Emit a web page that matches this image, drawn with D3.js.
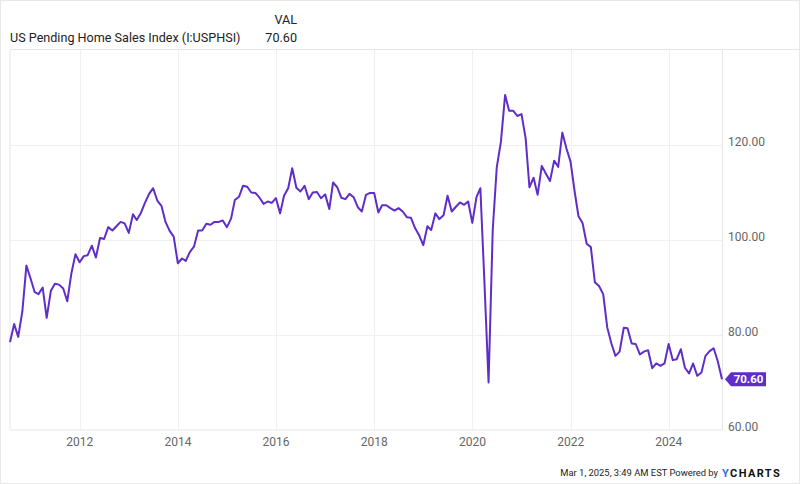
<!DOCTYPE html>
<html>
<head>
<meta charset="utf-8">
<script src="https://cdn.jsdelivr.net/npm/d3@7"></script>
<style>
  html, body { margin: 0; padding: 0; background: #fff; }
  svg { display: block; font-family: Roboto, "Noto Sans", sans-serif; }
</style>
</head>
<body>
<svg id="chart" width="800" height="484"></svg>
<script>
// ---- data ----
const startMonth = "2010-07";           // first observation (month-end dated)
const seriesName = "US Pending Home Sales Index (I:USPHSI)";
const lastValueLabel = "70.60";
const values = [
  // 2010 Jul-Dec
  78.4, 82.2, 79.5, 84.9, 94.5, 91.8,
  // 2011
  88.9, 88.5, 89.9, 83.5, 89.2, 90.7, 90.5, 89.7, 87.0, 92.9, 96.9, 95.2,
  // 2012
  96.5, 96.7, 98.7, 96.2, 100.3, 100.1, 102.6, 101.9, 102.8, 103.7, 103.4, 101.4,
  // 2013
  105.3, 104.1, 105.6, 107.7, 109.6, 110.8, 108.2, 107.1, 103.7, 101.8, 100.6, 95.0,
  // 2014
  96.0, 95.5, 97.4, 98.5, 101.9, 101.9, 103.3, 103.1, 103.7, 103.7, 104.0, 102.6,
  // 2015
  104.4, 108.3, 109.0, 111.3, 111.1, 109.9, 109.8, 108.8, 107.5, 108.0, 107.7, 108.7,
  // 2016
  105.5, 109.2, 110.8, 115.0, 110.9, 110.1, 111.3, 108.5, 109.9, 110.0, 108.7, 109.5,
  // 2017
  106.4, 112.0, 111.0, 108.8, 108.5, 109.6, 108.9, 106.8, 105.9, 109.4, 109.8, 109.8,
  // 2018
  105.7, 107.2, 107.2, 106.6, 106.1, 106.6, 105.9, 104.7, 104.6, 102.4, 100.9, 98.8,
  // 2019
  102.8, 102.0, 105.5, 104.3, 105.1, 109.2, 105.9, 106.9, 107.8, 107.3, 108.0, 103.5,
  // 2020
  108.9, 110.8, 90.5, 69.9, 102.0, 115.2, 120.6, 130.4, 127.1, 127.1, 126.0, 126.4,
  // 2021
  121.3, 111.0, 113.0, 109.4, 115.5, 113.9, 112.3, 116.6, 115.3, 122.5, 119.2, 116.4,
  // 2022
  110.0, 104.9, 103.4, 99.1, 98.4, 91.0, 90.2, 88.5, 81.5, 78.1, 75.5, 76.4,
  // 2023
  81.4, 81.3, 78.1, 78.0, 75.8, 76.4, 76.7, 72.9, 73.9, 73.4, 73.9, 78.0,
  // 2024
  74.6, 74.8, 76.9, 73.0, 71.8, 73.9, 71.3, 72.0, 75.5, 76.5, 77.1, 74.3,
  // 2025 Jan
  70.6
];
const yTicks = [60, 80, 100, 120];
const yTickLabels = ["60.00", "80.00", "100.00", "120.00"];
const xTickYears = [2012, 2014, 2016, 2018, 2020, 2022, 2024];
const xTickLabels = ["2012", "2014", "2016", "2018", "2020", "2022", "2024"];
const footerText = "Mar 1, 2025, 3:49 AM EST Powered by";

// ---- build dated series (month-end dates) ----
const [sy, sm] = startMonth.split("-").map(Number);
const data = values.map((v, i) => ({
  date: new Date(sy, sm - 1 + i + 1, 0), // last day of month
  value: v
}));

// ---- layout ----
const svg = d3.select("#chart");
const W = 800, H = 484;
const plot = { left: 10, right: 722, top: 49.5, bottom: 429.5 };
const lineColor = "#5f2dc8";

// outer frame
svg.append("rect").attr("x", 0.5).attr("y", 0.5).attr("width", W - 1).attr("height", H - 1)
  .attr("fill", "#fff").attr("stroke", "#e8e8e8");

const x = d3.scaleTime()
  .domain([data[0].date, data[data.length - 1].date])
  .range([plot.left, plot.right]);
const y = d3.scaleLinear().domain([60, 140]).range([plot.bottom, plot.top]);

// gridlines
const g = svg.append("g");
g.selectAll("line.hgrid").data(yTicks.slice(1)).join("line")
  .attr("x1", plot.left).attr("x2", plot.right)
  .attr("y1", d => Math.round(y(d)) + 0.5).attr("y2", d => Math.round(y(d)) + 0.5)
  .attr("stroke", "#f0f0f0").attr("stroke-width", 1);
g.selectAll("line.vgrid").data(xTickYears).join("line")
  .attr("x1", d => Math.round(x(new Date(d, 0, 1))) + 0.5)
  .attr("x2", d => Math.round(x(new Date(d, 0, 1))) + 0.5)
  .attr("y1", plot.top).attr("y2", plot.bottom)
  .attr("stroke", "#f0f0f0").attr("stroke-width", 1);

// plot borders
svg.append("line").attr("x1", 10).attr("x2", 10).attr("y1", plot.top).attr("y2", plot.bottom)
  .attr("stroke", "#e6e6e6");
svg.append("line").attr("x1", plot.right + 0.5).attr("x2", plot.right + 0.5).attr("y1", plot.top).attr("y2", plot.bottom + 0.5)
  .attr("stroke", "#e6e6e6");
svg.append("line").attr("x1", 10).attr("x2", plot.right).attr("y1", plot.bottom + 0.5).attr("y2", plot.bottom + 0.5)
  .attr("stroke", "#e6e6e6");
svg.append("line").attr("x1", 10).attr("x2", W).attr("y1", plot.top).attr("y2", plot.top)
  .attr("stroke", "#e6e6e6");

// y labels (right)
svg.append("g").selectAll("text").data(yTicks).join("text")
  .attr("x", 728).attr("y", d => y(d) + 1)
  .attr("font-size", 12).attr("fill", "#666")
  .text((d, i) => yTickLabels[i]);

// x labels
svg.append("g").selectAll("text").data(xTickYears).join("text")
  .attr("x", d => x(new Date(d, 0, 1))).attr("y", 445.5)
  .attr("text-anchor", "middle").attr("font-size", 12).attr("fill", "#666")
  .text((d, i) => xTickLabels[i]);

// line
const line = d3.line().x(d => x(d.date)).y(d => y(d.value));
svg.append("path").datum(data)
  .attr("d", line).attr("fill", "none")
  .attr("stroke", lineColor).attr("stroke-width", 2)
  .attr("stroke-linejoin", "round");

// last value badge
const last = data[data.length - 1];
const by = y(last.value), bx = x(last.date) + 3;
svg.append("path")
  .attr("d", `M${bx},${by} L${bx + 6},${by - 7} L${bx + 41},${by - 7} L${bx + 41},${by + 7} L${bx + 6},${by + 7} Z`)
  .attr("fill", lineColor);
svg.append("text").attr("x", bx + 23.5).attr("y", by + 4)
  .attr("text-anchor", "middle").attr("font-size", 11.5).attr("font-weight", "bold")
  .attr("fill", "#fff").text(lastValueLabel);

// header
svg.append("text").attr("x", 297).attr("y", 24).attr("text-anchor", "end")
  .attr("font-size", 12.6).attr("fill", "#222").text("VAL");
svg.append("text").attr("x", 10).attr("y", 42).attr("font-size", 12.6).attr("fill", "#222")
  .text(seriesName);
svg.append("text").attr("x", 297).attr("y", 42).attr("text-anchor", "end")
  .attr("font-size", 12.6).attr("fill", "#222").text(lastValueLabel);

// footer
svg.append("text").attr("x", 718).attr("y", 476).attr("text-anchor", "end")
  .attr("font-size", 9.4).attr("fill", "#222").text(footerText);
const logo = svg.append("text").attr("x", 722).attr("y", 476.5)
  .attr("font-size", 11).attr("font-weight", "bold").attr("letter-spacing", 1.4);
logo.append("tspan").attr("fill", "#1f6fe5").text("Y");
logo.append("tspan").attr("fill", "#111").text("CHARTS");
</script>
</body>
</html>
